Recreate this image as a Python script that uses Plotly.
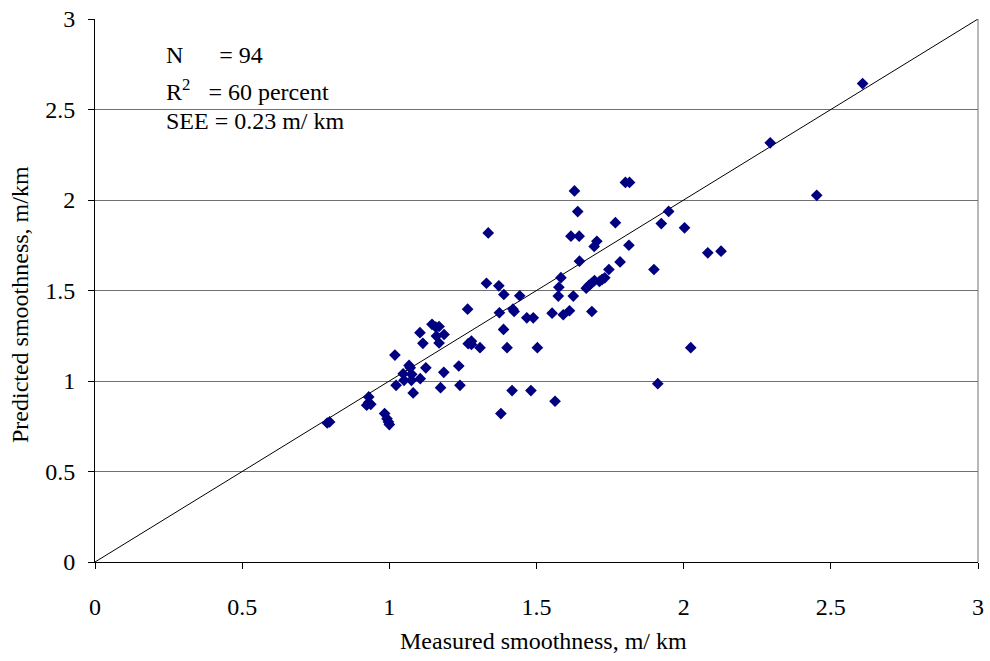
import plotly.graph_objects as go

measured = [2.608, 2.294, 2.452, 2.082, 2.127, 2.003, 2.024, 1.912, 1.949, 1.924,
            1.899, 1.802, 1.816, 1.814, 1.768, 1.784, 1.746, 1.732, 1.723, 1.714,
            1.697, 1.687, 1.678, 1.669, 1.696, 1.705, 1.688, 1.629, 1.640, 1.617,
            1.645, 1.646, 1.625, 1.612, 1.591, 1.553, 1.583, 1.576, 1.574, 1.563,
            1.503, 1.489, 1.467, 1.481, 1.443, 1.420, 1.424, 1.417, 1.400, 1.389,
            1.388, 1.379, 1.374, 1.372, 1.336, 1.330, 1.308, 1.279, 1.279, 1.268,
            1.266, 1.240, 1.236, 1.186, 1.185, 1.174, 1.169, 1.169, 1.160, 1.158,
            1.145, 1.124, 1.114, 1.104, 1.105, 1.081, 1.076, 1.075, 1.071, 1.067,
            1.050, 1.047, 1.023, 1.019, 0.930, 0.930, 0.923, 0.937, 0.984, 0.992,
            0.997, 1.000, 0.789, 0.797]
predicted = [2.643, 2.316, 2.026, 1.708, 1.717, 1.846, 1.184, 0.985, 1.937, 1.870,
             1.616, 2.097, 2.097, 1.750, 1.875, 1.658, 1.616, 1.570, 1.562, 1.550,
             1.555, 1.540, 1.528, 1.513, 1.743, 1.772, 1.384, 2.050, 1.936, 1.800,
             1.800, 1.662, 1.469, 1.388, 1.366, 1.375, 1.571, 1.518, 1.469, 0.888,
             1.184, 1.349, 1.349, 0.947, 1.471, 1.397, 1.384, 0.947, 1.184, 1.478,
             1.285, 0.820, 1.377, 1.526, 1.818, 1.540, 1.184, 1.220, 1.202, 1.206,
             1.397, 0.976, 1.083, 1.257, 1.048, 0.963, 1.301, 1.210, 1.248, 1.298,
             1.313, 1.073, 1.208, 1.267, 1.013, 0.934, 1.037, 1.004, 1.073, 1.086,
             1.004, 1.040, 0.976, 1.143, 0.912, 0.881, 0.866, 0.871, 0.820, 0.792,
             0.774, 0.759, 0.768, 0.774]
line_x = [0, 3]
line_y = [0, 3]
tick_vals = [0, 0.5, 1, 1.5, 2, 2.5, 3]
tick_text = ["0", "0.5", "1", "1.5", "2", "2.5", "3"]
stats_lines = ["N&nbsp;&nbsp;&nbsp;&nbsp;&nbsp;&nbsp;= 94",
               "R<sup>2</sup>&nbsp;&nbsp;&nbsp;= 60 percent",
               "SEE = 0.23 m/ km"]

FONT = "Times New Roman, Liberation Serif, serif"
FS = 24

fig = go.Figure()
fig.add_trace(go.Scatter(x=line_x, y=line_y, mode="lines",
                         line=dict(color="black", width=1), hoverinfo="skip",
                         showlegend=False))
fig.add_trace(go.Scatter(x=measured, y=predicted, mode="markers",
                         marker=dict(symbol="diamond", size=9, color="#000080",
                                     line=dict(width=0)),
                         showlegend=False))

fig.update_layout(
    width=990, height=661,
    margin=dict(l=95, r=6, t=14, b=99),
    paper_bgcolor="white", plot_bgcolor="white",
    font=dict(family=FONT, size=FS, color="black"),
    xaxis=dict(range=[0, 3], tickvals=tick_vals, ticktext=tick_text,
               showgrid=False, zeroline=False, showline=True, linecolor="black",
               linewidth=1, ticks="outside", ticklen=6, tickcolor="black",
               ticklabelstandoff=17, tickfont=dict(family=FONT, size=FS)),
    yaxis=dict(range=[0, 3], tickvals=tick_vals, ticktext=tick_text,
               showgrid=True, gridcolor="#707070", gridwidth=1, zeroline=False,
               showline=True, linecolor="black", linewidth=1, ticks="outside",
               ticklen=6, tickcolor="black", ticklabelstandoff=8,
               tickfont=dict(family=FONT, size=FS)),
    shapes=[dict(type="line", xref="paper", yref="paper", x0=1, x1=1, y0=0, y1=1,
                 line=dict(color="#707070", width=1))],
)

ys = [0.934, 0.869, 0.813]
for txt, yy in zip(stats_lines, ys):
    fig.add_annotation(text=txt, xref="paper", yref="paper", x=0.078, y=yy,
                       xanchor="left", yanchor="middle", showarrow=False,
                       font=dict(family=FONT, size=FS))

fig.add_annotation(text="Measured smoothness, m/ km", xref="paper", yref="paper",
                   x=0.508, y=-0.145, xanchor="center", yanchor="middle",
                   showarrow=False, font=dict(family=FONT, size=FS))
fig.add_annotation(text="Predicted smoothness, m/km", xref="paper", yref="paper",
                   x=-0.085, y=0.475, xanchor="center", yanchor="middle",
                   textangle=-90, showarrow=False, font=dict(family=FONT, size=FS))

fig.write_html("out.html")
